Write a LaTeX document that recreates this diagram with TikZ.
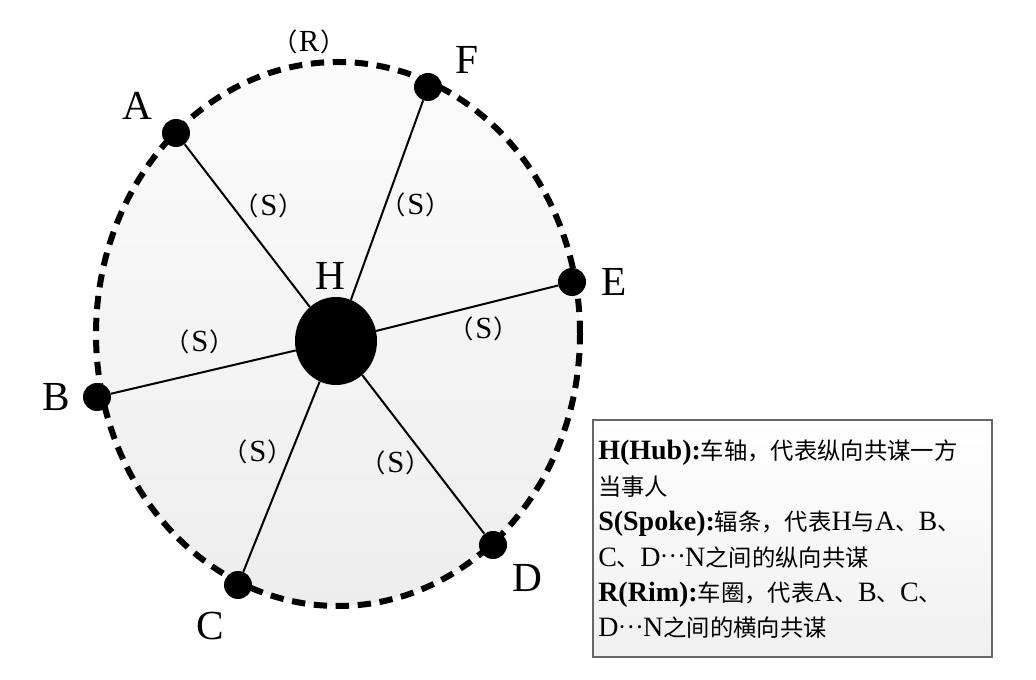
\documentclass[tikz,border=0pt]{standalone}
\usepackage{fontspec}
\setmainfont{Liberation Serif}
\newfontfamily\cjk{Noto Sans CJK SC}
\usetikzlibrary{shapes.geometric}
\newcommand{\zh}[1]{{\cjk\fontsize{17.5}{26.5}\selectfont #1}}
\newcommand{\paren}[1]{{\cjk\fontsize{19}{19}\selectfont （}\kern1pt#1\kern1pt{\cjk\fontsize{19}{19}\selectfont ）}}
\newcommand{\dd}{\raisebox{0.3em}{\zh{…}}}

\begin{document}
\begin{tikzpicture}[x=0.75pt,y=-0.75pt,
    dot/.style={circle,fill,inner sep=0pt,minimum size=21pt},
    letter/.style={font=\fontsize{31}{31}\selectfont},
    slbl/.style={font=\fontsize{23}{23}\selectfont},
    legtext/.style={anchor=base west,inner sep=0pt,font=\fontsize{21}{26.5}\selectfont}]
  \useasboundingbox (0,0) rectangle (1036,680);

  %rim
  \shade[top color=gray!3,bottom color=gray!14] (338,334) ellipse [x radius=181.5pt,y radius=204pt];
  \draw[line width=4.5pt,dash pattern=on 10pt off 6.5pt] (338,334) ellipse [x radius=181.5pt,y radius=204pt];

  %hub and points on the rim
  \node[ellipse,fill,inner sep=0pt,minimum width=61.5pt,minimum height=66pt] (H) at (336,341) {};
  \node[dot] (A) at (176,133) {};
  \node[dot] (F) at (428,87) {};
  \node[dot] (E) at (572,282) {};
  \node[dot] (B) at (97,397) {};
  \node[dot] (C) at (238,585) {};
  \node[dot] (D) at (493,545) {};

  %spokes
  \foreach \p in {A,B,C,D,E,F} {
    \draw[line width=1.5pt] (H) -- (\p);
  }

  %letters
  \node[letter] (lH) at (330,276) {H};
  \node[letter] (lA) at (137,106) {A};
  \node[letter] (lF) at (467,60) {F};
  \node[letter] (lE) at (614,282) {E};
  \node[letter] (lB) at (56,397) {B};
  \node[letter] (lC) at (210,626) {C};
  \node[letter] (lD) at (527,578) {D};

  %spoke and rim labels
  \node[slbl] (sA) at (269,206) {\paren{S}};
  \node[slbl] (sF) at (416,205) {\paren{S}};
  \node[slbl] (sB) at (200,342) {\paren{S}};
  \node[slbl] (sE) at (484,329) {\paren{S}};
  \node[slbl] (sC) at (258,452) {\paren{S}};
  \node[slbl] (sD) at (396,463) {\paren{S}};
  \node[slbl] (rR) at (309,42) {\paren{R}};

  %legend
  \shade[top color=white,bottom color=gray!12,draw=gray!80!black,line width=1.2pt] (593,420) rectangle (992,657);
  \foreach \t [count=\i] in {
    {\textbf{H(Hub):}\zh{车轴，代表纵向共谋一方}},
    {\zh{当事人}},
    {\textbf{S(Spoke):}\zh{辐条，代表}H\zh{与}A\zh{、}B\zh{、}},
    {C\zh{、}D\dd N\zh{之间的纵向共谋}},
    {\textbf{R(Rim):}\zh{车圈，代表}A\zh{、}B\zh{、}C\zh{、}},
    {D\dd N\zh{之间的横向共谋}}} {
    \node[legtext] (leg\i) at (598,{460+35.4*(\i-1)}) {\t};
  }
\end{tikzpicture}
\end{document}
